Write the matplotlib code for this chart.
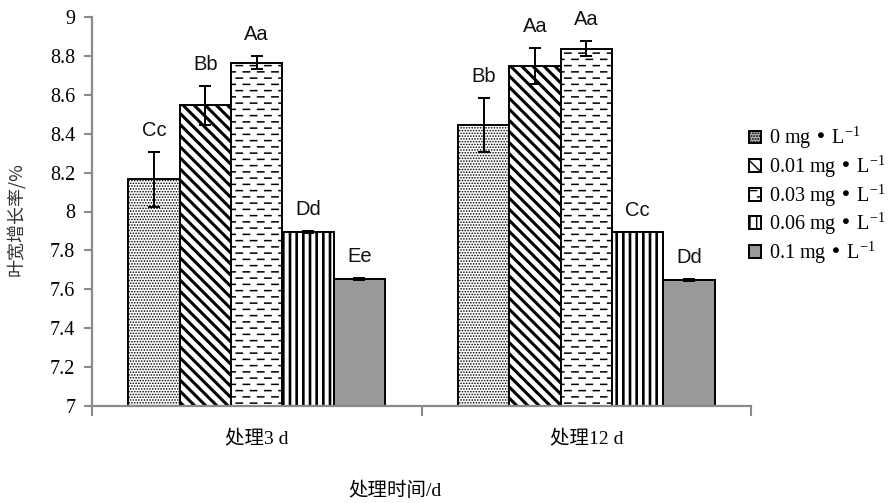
import warnings
import numpy as np
import matplotlib
matplotlib.use("Agg")
import matplotlib.pyplot as plt
import matplotlib.hatch as mhatch
from matplotlib.path import Path
from matplotlib.patches import Patch

warnings.filterwarnings("ignore")

# ---- data -------------------------------------------------------------
groups = ["处理3 d", "处理12 d"]
series = ["0 mg • L$^{-1}$", "0.01 mg • L$^{-1}$", "0.03 mg • L$^{-1}$",
          "0.06 mg • L$^{-1}$", "0.1 mg • L$^{-1}$"]
values_3d = [8.165, 8.545, 8.765, 7.893, 7.655]
values_12d = [8.445, 8.748, 8.838, 7.893, 7.647]
errors_3d = [0.14, 0.10, 0.033, 0.005, 0.005]
errors_12d = [0.14, 0.095, 0.04, 0.0, 0.005]
letters_3d = ["Cc", "Bb", "Aa", "Dd", "Ee"]
letters_12d = ["Bb", "Aa", "Aa", "Cc", "Dd"]
yticks = [7, 7.2, 7.4, 7.6, 7.8, 8, 8.2, 8.4, 8.6, 8.8, 9]
ytick_labels = ["7", "7.2", "7.4", "7.6", "7.8", "8", "8.2", "8.4", "8.6", "8.8", "9"]


# ---- extra hatch patterns (dashed rows, dense back-diagonals, dense bars) ----
class DashRowHatch(mhatch.HatchPatternBase):
    rows, per_row = 16, 7

    def __init__(self, hatch, density):
        self.num_vertices = self.rows * self.per_row * 2 if "_" in hatch else 0

    def set_vertices_and_codes(self, vertices, codes):
        k = 0
        for r in range(self.rows):
            y = (r + 0.5) / self.rows
            shift = 0.5 if r % 2 else 0.0
            for c in range(self.per_row):
                vertices[k] = ((c + shift + 0.03) / self.per_row, y)
                vertices[k + 1] = ((c + shift + 0.47) / self.per_row, y)
                codes[k] = Path.MOVETO
                codes[k + 1] = Path.LINETO
                k += 2


class DenseBackDiagonal(mhatch.HatchPatternBase):
    n = 18

    def __init__(self, hatch, density):
        self.num_lines = self.n if "~" in hatch else 0
        self.num_vertices = (self.num_lines + 1) * 2 if self.num_lines else 0

    def set_vertices_and_codes(self, vertices, codes):
        steps = np.linspace(-0.5, 0.5, self.num_lines + 1)
        vertices[0::2, 0] = 0.0 + steps
        vertices[0::2, 1] = 1.0 + steps
        vertices[1::2, 0] = 1.0 + steps
        vertices[1::2, 1] = 0.0 + steps
        codes[0::2] = Path.MOVETO
        codes[1::2] = Path.LINETO


class DenseVertical(mhatch.HatchPatternBase):
    n = 15

    def __init__(self, hatch, density):
        self.num_lines = self.n if ":" in hatch else 0
        self.num_vertices = self.num_lines * 2

    def set_vertices_and_codes(self, vertices, codes):
        steps = np.linspace(0.0, 1.0, self.num_lines, endpoint=False) + 0.5 / self.num_lines
        vertices[0::2, 0] = steps
        vertices[0::2, 1] = 0.0
        vertices[1::2, 0] = steps
        vertices[1::2, 1] = 1.0
        codes[0::2] = Path.MOVETO
        codes[1::2] = Path.LINETO


mhatch._hatch_types.extend([DashRowHatch, DenseBackDiagonal, DenseVertical])

hatches = ["......", "~", "_", ":", None]
hatch_widths = [0.75, 2.2, 1.1, 1.9, 1.0]
faces = ["white", "white", "white", "white", "#999999"]

# ---- figure -----------------------------------------------------------
plt.rcParams["mathtext.default"] = "regular"
plt.rcParams["axes.unicode_minus"] = False
serif = ["Liberation Serif", "Noto Sans CJK SC"]
cjk = ["Noto Sans CJK SC", "Liberation Serif"]

fig = plt.figure(figsize=(8.96, 5.03), dpi=100)
ax = fig.add_axes([92 / 896, 1 - 406 / 503, (751 - 92) / 896, (406 - 17) / 503])

x = np.arange(len(groups))
width = 0.1557
offsets = (np.arange(len(series)) - 2) * width
axis_grey = "#8a8a8a"

for i, name in enumerate(series):
    vals = [values_3d[i], values_12d[i]]
    errs = [errors_3d[i], errors_12d[i]]
    labs = [letters_3d[i], letters_12d[i]]
    bars = ax.bar(x + offsets[i], np.array(vals) - 7, width, bottom=7,
                  color=faces[i], edgecolor="black", linewidth=1.4,
                  hatch=hatches[i], zorder=2)
    for b in bars:
        if hasattr(b, "set_hatch_linewidth"):
            b.set_hatch_linewidth(hatch_widths[i])
    ax.errorbar(x + offsets[i], vals, yerr=errs, fmt="none", ecolor="black",
                elinewidth=1.4, capsize=4, capthick=1.4, zorder=3)
    for xi, v, e, t in zip(x + offsets[i], vals, errs, labs):
        ax.annotate(t, (xi, v + e), xytext=(0, 11.5), textcoords="offset points",
                    ha="center", va="baseline", fontsize=14.5,
                    family="Liberation Sans", color="#111111")

ax.set_xlim(-0.5, 1.5)
ax.set_ylim(7, 9)
ax.set_yticks(yticks)
ax.set_yticklabels(ytick_labels, family=serif, fontsize=14.5)
ax.tick_params(axis="y", direction="out", length=6, width=1.5, color=axis_grey, pad=6)

ax.set_xticks(x)
ax.set_xticklabels(groups, family=serif, fontsize=14)
ax.tick_params(axis="x", which="major", length=0, pad=17)
ax.set_xticks([-0.5, 0.5, 1.5], minor=True)
ax.tick_params(axis="x", which="minor", direction="out", length=7, width=1.5, color=axis_grey)

for side in ("top", "right"):
    ax.spines[side].set_visible(False)
for side in ("left", "bottom"):
    ax.spines[side].set_color(axis_grey)
    ax.spines[side].set_linewidth(1.6)

ax.set_ylabel("叶宽增长率/%", family=cjk, fontsize=13, color="#333333")
ax.yaxis.set_label_coords(-67 / 659, 0.48)
ax.set_xlabel("处理时间/d", family=serif, fontsize=14)
ax.xaxis.set_label_coords((395 - 92) / 659, -(491 - 406) / 389)
ax.xaxis.label.set_va("center")

handles = []
for i, name in enumerate(series):
    p = Patch(facecolor=faces[i] if i != 0 else "#bbbbbb", edgecolor="black",
              linewidth=1.4, hatch=hatches[i], label=name)
    if hasattr(p, "set_hatch_linewidth"):
        p.set_hatch_linewidth(hatch_widths[i])
    handles.append(p)

fig.legend(handles=handles, loc="upper left", bbox_to_anchor=(739 / 896, 1 - 115 / 503),
           frameon=False, borderpad=0, handlelength=0.6, handleheight=0.6,
           handletextpad=0.4, labelspacing=0.12, prop={"family": serif, "size": 14.5})

fig.savefig("out.png", dpi=100)
